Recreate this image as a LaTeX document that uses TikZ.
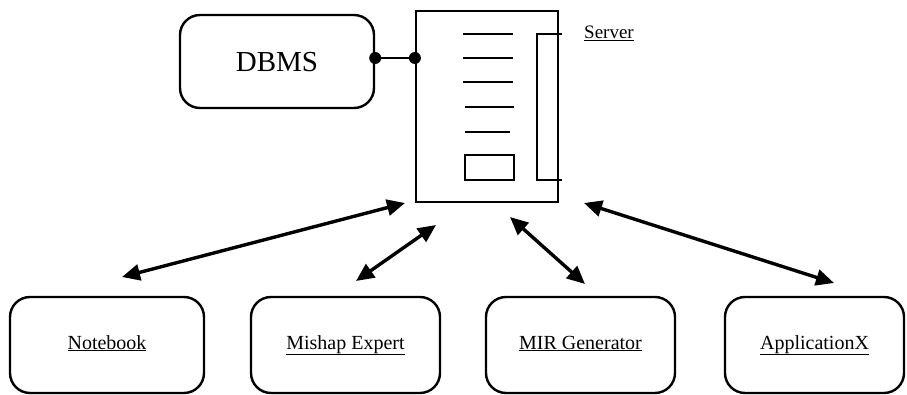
\documentclass[tikz,border=0pt]{standalone}
\usepackage{fontspec}
\setmainfont{Liberation Serif}
\usetikzlibrary{arrows.meta,calc}
\begin{document}
\begin{tikzpicture}[x=1pt,y=-1pt,
  box/.style={draw,line width=2.4pt,rounded corners=20pt,inner sep=0pt,
    text height=13pt,text depth=5pt,font=\fontsize{20}{20}\selectfont},
  dot/.style={circle,fill,inner sep=0pt,minimum size=12pt},
  link/.style={line width=3.4pt,
    {Triangle[length=18pt,width=16pt]}-{Triangle[length=18pt,width=16pt]}},
  rule/.style={line width=2pt}]
\useasboundingbox (0,0) rectangle (907,395);

% database and server
\node[box,minimum width=194pt,minimum height=93pt,text height=20pt,text depth=0pt,
      font=\fontsize{29}{29}\selectfont] (dbms) at (277,61.5) {DBMS};
\node[draw,line width=2.2pt,minimum width=142pt,minimum height=191pt,
      inner sep=0pt] (srv) at (487,106.5) {};

% server front panel: slots, drive bay and side bracket
\foreach \y/\a/\b in {34/463/513, 58/463/513, 82/463/513, 107/465/514, 132/465/510}
  \draw[rule] (\a,\y) -- (\b,\y);
\draw[rule] (465,155) rectangle (514,180);
\draw[rule] (562,34) -- (537,34) -- (537,180) -- (562,180);
\node[anchor=west,inner sep=0pt,font=\fontsize{19}{19}\selectfont] (lbl) at (584,33) {\underline{Server}};

% connection between DBMS and server
\node[dot] (d1) at ($(dbms.east)+(0,-3.5)$) {};
\node[dot] (d2) at ($(srv.west |- d1)$) {};
\draw[line width=2.2pt] (d1) -- (d2);

% client applications
\node[box,minimum width=194pt,minimum height=96pt] (nb)  at (107,345)   {\underline{Notebook}};
\node[box,minimum width=189pt,minimum height=96pt] (me)  at (345.5,345) {\underline{Mishap Expert}};
\node[box,minimum width=189pt,minimum height=96pt] (mir) at (580.5,345) {\underline{MIR Generator}};
\node[box,minimum width=179pt,minimum height=96pt] (app) at (814.5,345) {\underline{ApplicationX}};

% arrow end points
\coordinate (nbT) at (122,277);  \coordinate (nbS) at (405,203);
\coordinate (meT) at (356,281);  \coordinate (meS) at (436,225);
\coordinate (mirT) at (585,284); \coordinate (mirS) at (510,217);
\coordinate (appT) at (834,283); \coordinate (appS) at (584,203);

\draw[link] (nbT) -- (nbS);
\draw[link] (meT) -- (meS);
\draw[link] (mirT) -- (mirS);
\draw[link] (appT) -- (appS);
\end{tikzpicture}
\end{document}
